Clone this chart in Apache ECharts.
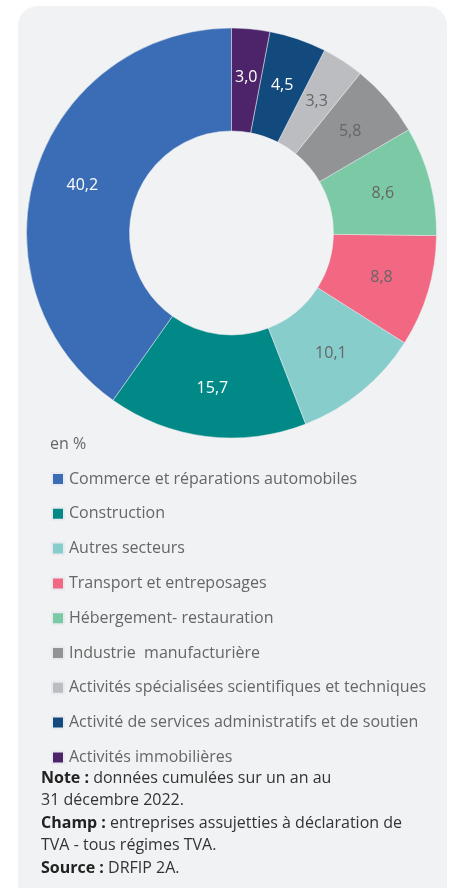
<!DOCTYPE html>
<html style="height: 100%">
<head>
    <meta charset="utf-8">
</head>
<body style="height: 100%; margin: 0; background: #ffffff">
    <div id="container" style="width: 454px; height: 888px"></div>
    <script type="text/javascript" src="https://cdn.jsdelivr.net/npm/echarts@6/dist/echarts.min.js"></script>
    <script type="text/javascript">
        // secteurs, dans l'ordre de la légende
        var categories = [
            'Commerce et réparations automobiles',
            'Construction',
            'Autres secteurs',
            'Transport et entreposages',
            'Hébergement- restauration',
            'Industrie  manufacturière',
            'Activités spécialisées scientifiques et techniques',
            'Activité de services administratifs et de soutien',
            'Activités immobilières'
        ];
        var values = [40.2, 15.7, 10.1, 8.8, 8.6, 5.8, 3.3, 4.5, 3.0];
        var colors = ['#3a6db5', '#008986', '#87cdcb', '#f26782', '#7bc9a5', '#929395', '#bcbdc0', '#124a7e', '#4d2469'];
        var labelColors = ['#ffffff', '#ffffff', '#666666', '#666666', '#666666', '#666666', '#666666', '#ffffff', '#ffffff'];

        var font = '"Open Sans", "Noto Sans", sans-serif';

        var dom = document.getElementById("container");
        var myChart = echarts.init(dom, null, { renderer: 'canvas' });

        var pieData = categories.map(function (name, i) {
            return {
                name: name,
                value: values[i],
                itemStyle: { color: colors[i] },
                label: { color: labelColors[i] }
            };
        });

        var option = {
            backgroundColor: '#ffffff',
            animation: false,
            graphic: [{
                type: 'rect',
                z: -10,
                shape: { x: 18, y: 6, width: 429, height: 900, r: 20 },
                style: { fill: '#f1f2f4' }
            }, {
                type: 'text',
                left: 50,
                top: 436,
                style: { text: 'en %', fill: '#666666', font: '16px ' + font }
            }],
            title: {
                left: 36,
                top: 762,
                text: '{b|Note :} données cumulées sur un an au\n31 décembre 2022.\n{b|Champ :} entreprises assujetties à déclaration de\nTVA - tous régimes TVA.\n{b|Source :} DRFIP 2A.',
                textStyle: {
                    fontFamily: font,
                    fontSize: 16,
                    fontWeight: 'normal',
                    color: '#333333',
                    lineHeight: 22.5,
                    rich: {
                        b: { fontFamily: font, fontSize: 16, fontWeight: 'bold', color: '#222222', lineHeight: 22.5 }
                    }
                }
            },
            legend: {
                orient: 'vertical',
                left: 46,
                top: 464,
                itemWidth: 12,
                itemHeight: 12,
                itemGap: 14.8,
                icon: 'rect',
                data: categories,
                selectedMode: false,
                textStyle: {
                    fontFamily: font,
                    fontSize: 16,
                    color: '#666666',
                    lineHeight: 20
                }
            },
            series: [{
                type: 'pie',
                center: [231.5, 233],
                radius: [102, 205],
                startAngle: 90,
                clockwise: false,
                data: pieData,
                itemStyle: { borderColor: '#e8eaf0', borderWidth: 0.5 },
                label: {
                    show: true,
                    position: 'inside',
                    fontFamily: font,
                    fontSize: 16,
                    formatter: function (p) {
                        return p.value.toFixed(1).replace('.', ',');
                    }
                },
                labelLine: { show: false },
                emphasis: { disabled: true }
            }]
        };

        myChart.setOption(option, true);
    </script>
</body>
</html>
